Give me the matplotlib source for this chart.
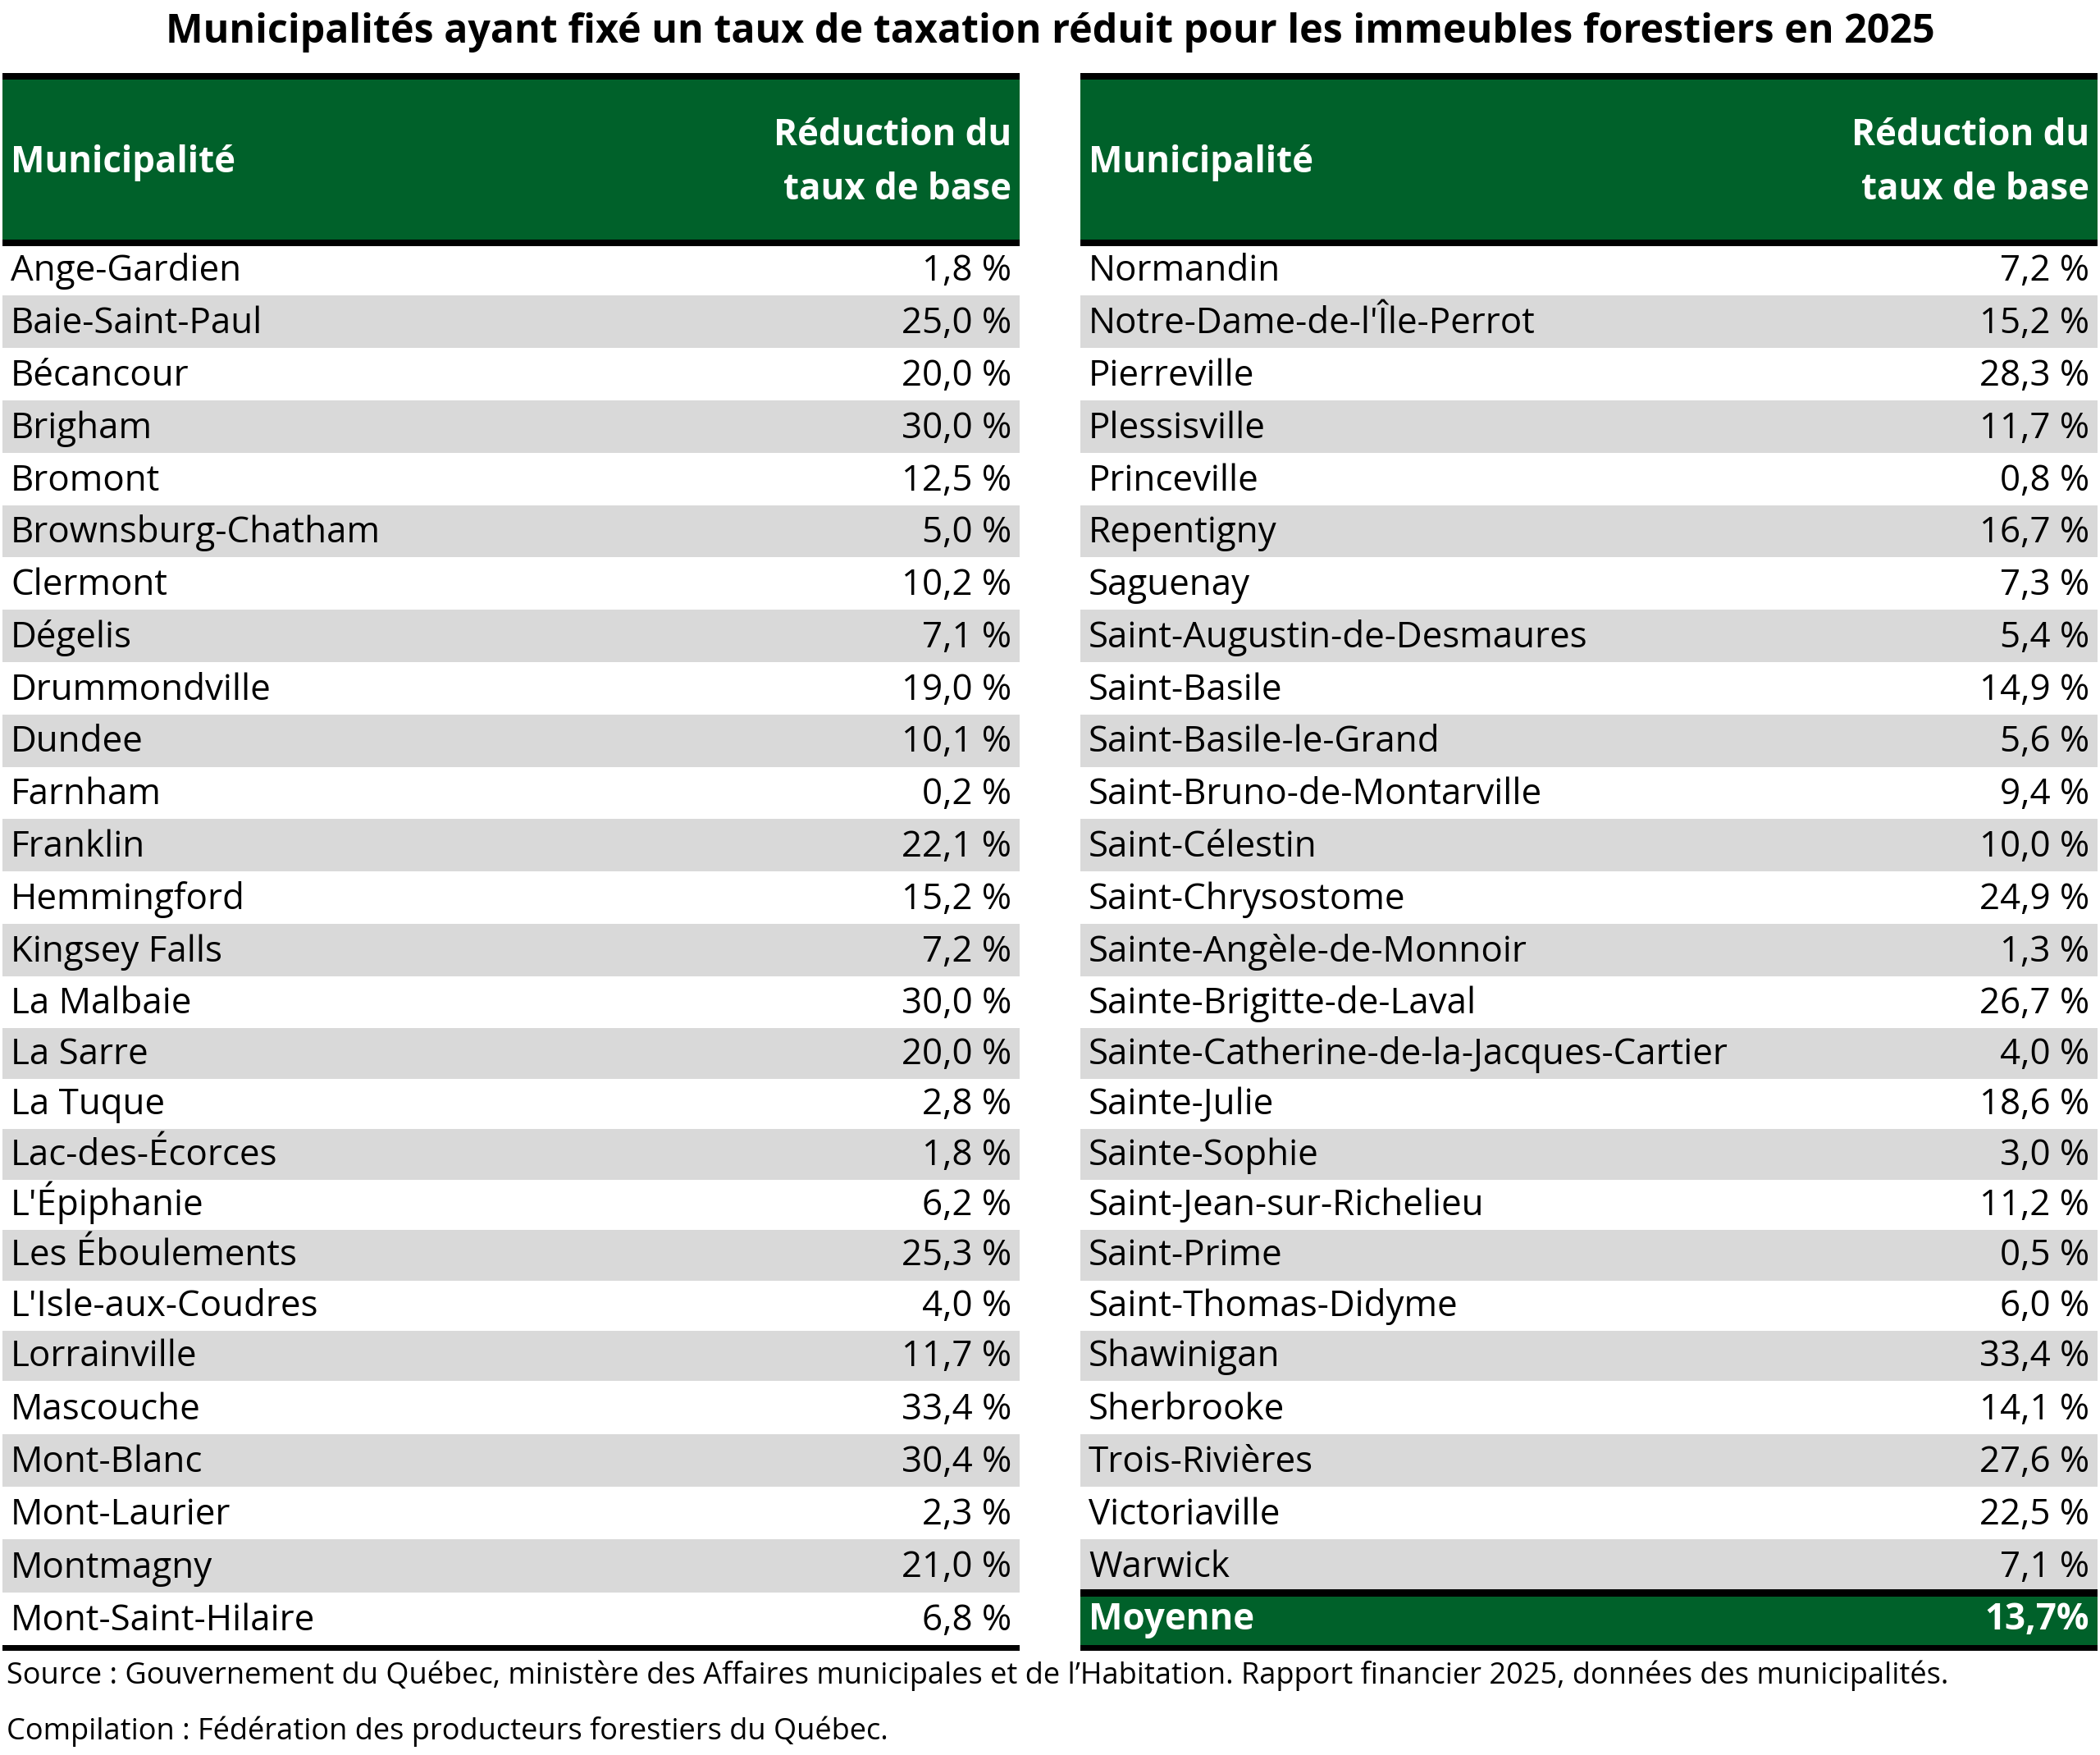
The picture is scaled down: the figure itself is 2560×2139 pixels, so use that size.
import numpy as np
import matplotlib.pyplot as plt
from matplotlib.patches import Rectangle

plt.rcParams['font.family'] = ['Open Sans', 'DejaVu Sans']

# Data
left_names = ["Ange-Gardien", "Baie-Saint-Paul", "Bécancour", "Brigham", "Bromont",
              "Brownsburg-Chatham", "Clermont", "Dégelis", "Drummondville", "Dundee",
              "Farnham", "Franklin", "Hemmingford", "Kingsey Falls", "La Malbaie",
              "La Sarre", "La Tuque", "Lac-des-Écorces", "L'Épiphanie", "Les Éboulements",
              "L'Isle-aux-Coudres", "Lorrainville", "Mascouche", "Mont-Blanc",
              "Mont-Laurier", "Montmagny", "Mont-Saint-Hilaire"]
left_values = [1.8, 25.0, 20.0, 30.0, 12.5, 5.0, 10.2, 7.1, 19.0, 10.1, 0.2, 22.1, 15.2,
               7.2, 30.0, 20.0, 2.8, 1.8, 6.2, 25.3, 4.0, 11.7, 33.4, 30.4, 2.3, 21.0, 6.8]

right_names = ["Normandin", "Notre-Dame-de-l'Île-Perrot", "Pierreville", "Plessisville",
               "Princeville", "Repentigny", "Saguenay", "Saint-Augustin-de-Desmaures",
               "Saint-Basile", "Saint-Basile-le-Grand", "Saint-Bruno-de-Montarville",
               "Saint-Célestin", "Saint-Chrysostome", "Sainte-Angèle-de-Monnoir",
               "Sainte-Brigitte-de-Laval", "Sainte-Catherine-de-la-Jacques-Cartier",
               "Sainte-Julie", "Sainte-Sophie", "Saint-Jean-sur-Richelieu", "Saint-Prime",
               "Saint-Thomas-Didyme", "Shawinigan", "Sherbrooke", "Trois-Rivières",
               "Victoriaville", "Warwick"]
right_values = [7.2, 15.2, 28.3, 11.7, 0.8, 16.7, 7.3, 5.4, 14.9, 5.6, 9.4, 10.0, 24.9,
                1.3, 26.7, 4.0, 18.6, 3.0, 11.2, 0.5, 6.0, 33.4, 14.1, 27.6, 22.5, 7.1]
average_label = "Moyenne"
average_value = 13.7

title = "Municipalités ayant fixé un taux de taxation réduit pour les immeubles forestiers en 2025"
col_headers = ["Municipalité", "Réduction du\ntaux de base"]
source_lines = ["Source : Gouvernement du Québec, ministère des Affaires municipales et de l\u2019Habitation. "
                "Rapport financier 2025, données des municipalités.",
                "Compilation : Fédération des producteurs forestiers du Québec."]

# Layout (pixels)
W, H = 2560, 2139
GREEN = "#00612A"
GRAY = "#D9D9D9"
row_heights = [63.8] * 15 + [61.4] * 7 + [64.3] * 5
edges = 296.5 + np.concatenate([[0], np.cumsum(row_heights)])
tables = [(3, 1243), (1317, 2557)]
fs = 31.6

def fmt(v, space=True):
    s = f"{v:.1f}".replace(".", ",")
    return s + (" %" if space else "%")

fig = plt.figure(figsize=(W / 100, H / 100), dpi=100)
ax = fig.add_axes([0, 0, 1, 1])
ax.set_xlim(0, W)
ax.set_ylim(H, 0)
ax.axis("off")

ax.text(W / 2, 52, title, ha="center", va="baseline", fontsize=34.8, fontweight="bold")

for (x0, x1), names, values in [(tables[0], left_names, left_values),
                                (tables[1], right_names, right_values)]:
    # header
    ax.add_patch(Rectangle((x0, 97), x1 - x0, 195, color=GREEN, lw=0))
    ax.text(x0 + 10, 210, col_headers[0], ha="left", va="baseline",
            fontsize=fs, fontweight="bold", color="white")
    ax.text(x1 - 10, 177, col_headers[1].split("\n")[0], ha="right", va="baseline",
            fontsize=fs, fontweight="bold", color="white")
    ax.text(x1 - 10, 243, col_headers[1].split("\n")[1], ha="right", va="baseline",
            fontsize=fs, fontweight="bold", color="white")
    # rows
    for i, (n, v) in enumerate(zip(names, values)):
        top, bot = edges[i], edges[i + 1]
        if i % 2 == 1:
            ax.add_patch(Rectangle((x0, top), x1 - x0, bot - top, color=GRAY, lw=0))
        ax.text(x0 + 10, bot - 18, n, ha="left", va="baseline", fontsize=fs)
        ax.text(x1 - 10, bot - 18, fmt(v), ha="right", va="baseline", fontsize=fs)
    # border lines
    ax.add_patch(Rectangle((x0, 89), x1 - x0, 8, color="black", lw=0))
    ax.add_patch(Rectangle((x0, 292), x1 - x0, 8, color="black", lw=0))

# average row on the right table
x0, x1 = tables[1]
top, bot = edges[26], edges[27]
ax.add_patch(Rectangle((x0, top), x1 - x0, bot - top, color=GREEN, lw=0))
ax.add_patch(Rectangle((x0, top - 4), x1 - x0, 9, color="black", lw=0))
ax.add_patch(Rectangle((x0, bot), x1 - x0, 7, color="black", lw=0))
ax.text(x0 + 10, bot - 19, average_label, ha="left", va="baseline", fontsize=fs,
        fontweight="bold", color="white")
ax.text(x1 - 10, bot - 19, fmt(average_value, space=False), ha="right", va="baseline",
        fontsize=fs, fontweight="bold", color="white")

# bottom line of the left table
x0, x1 = tables[0]
ax.add_patch(Rectangle((x0, edges[27]), x1 - x0, 7, color="black", lw=0))

ax.text(8, 2052, source_lines[0], ha="left", va="baseline", fontsize=26)
ax.text(8, 2120, source_lines[1], ha="left", va="baseline", fontsize=26)

fig.savefig("out.png", dpi=100)
